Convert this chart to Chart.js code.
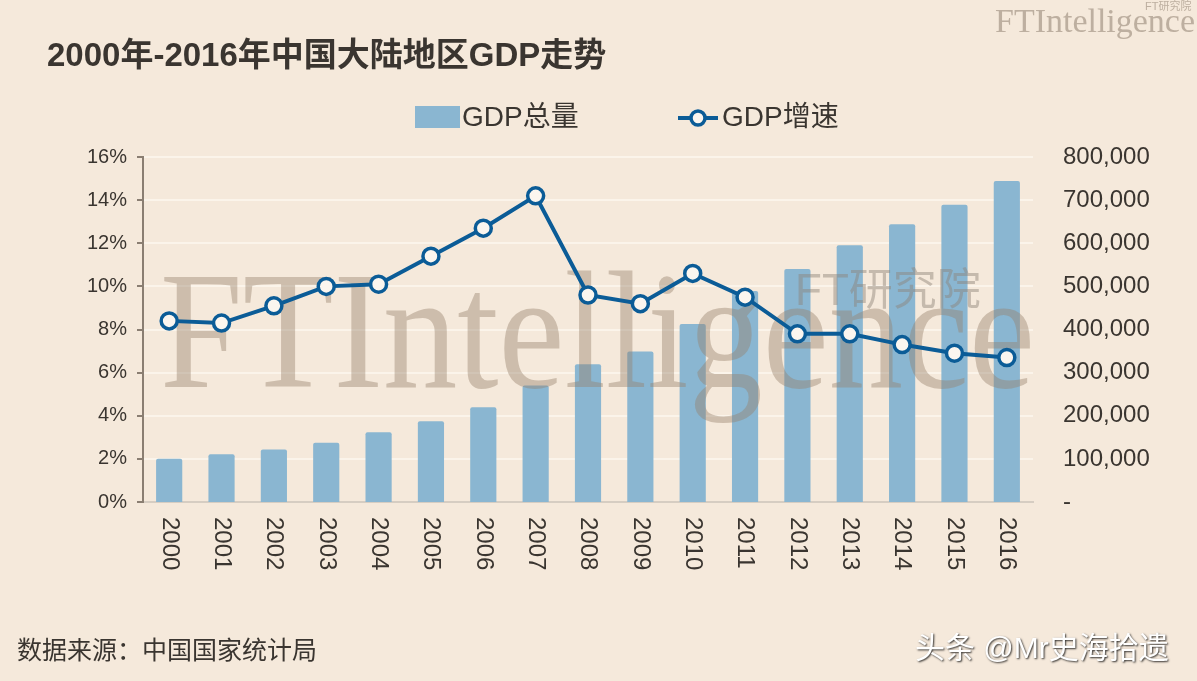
<!DOCTYPE html>
<html>
<head>
<meta charset="utf-8">
<script src="https://cdn.jsdelivr.net/npm/chart.js@4/dist/chart.umd.min.js"></script>
<style>
  html, body { margin: 0; padding: 0; background: #f5e9db; }
  #wrap { position: relative; width: 1197px; height: 681px; }
</style>
</head>
<body>
<div id="wrap"><canvas id="graphique" width="1197" height="681"></canvas></div>
<script>
// Données
var annees = ["2000", "2001", "2002", "2003", "2004", "2005", "2006", "2007", "2008",
              "2009", "2010", "2011", "2012", "2013", "2014", "2015", "2016"];
// GDP总量 (亿元)
var gdpTotal = [100280, 110863, 121717, 137422, 161840, 187319, 219439, 270232, 319516,
                349081, 413030, 489301, 540367, 595244, 643974, 689052, 744127];
// GDP增速 (%)
var gdpGrowth = [8.4, 8.3, 9.1, 10.0, 10.1, 11.4, 12.7, 14.2, 9.6,
                 9.2, 10.6, 9.5, 7.8, 7.8, 7.3, 6.9, 6.7];

var titre = "2000年-2016年中国大陆地区GDP走势";
var source = "数据来源：中国国家统计局";
var legendeBarres = "GDP总量";
var legendeLigne = "GDP增速";

var BG = "#f5e9db";
var BAR = "#8ab6d1";
var LINE = "#0b5c97";
var TXT = "#3a3530";
var SANS = '"Liberation Sans", Arial, "Noto Sans CJK SC", sans-serif';
var SERIF = '"Liberation Serif", "DejaVu Serif", serif';

// Filigrane dessiné juste après les barres (la ligne reste au-dessus)
var filigrane = {
  id: "filigrane",
  afterDatasetDraw: function(chart, args) {
    if (args.index !== 0) return;
    var ctx = chart.ctx;
    ctx.save();
    ctx.fillStyle = "rgba(150,128,108,0.42)";
    ctx.font = "168px " + SERIF;
    ctx.textBaseline = "alphabetic";
    ctx.textAlign = "left";
    ctx.fillText("FTIntelligence", 160, 387, 875);
    ctx.fillStyle = "rgba(140,128,118,0.45)";
    ctx.font = "44px " + SANS;
    ctx.fillText("FT研究院", 795, 305, 238);
    ctx.restore();
  }
};

// Textes, légende et étiquettes de l'axe X
var decor = {
  id: "decor",
  beforeDraw: function(chart) {
    var ctx = chart.ctx;
    ctx.save();
    ctx.fillStyle = BG;
    ctx.fillRect(0, 0, chart.width, chart.height);
    ctx.restore();
  },
  afterDraw: function(chart) {
    var ctx = chart.ctx;
    ctx.save();

    // titre
    ctx.fillStyle = TXT;
    ctx.textAlign = "left";
    ctx.textBaseline = "alphabetic";
    ctx.font = "bold 33px " + SANS;
    ctx.fillText(titre, 47, 66, 566);

    // logo en haut à droite
    ctx.fillStyle = "rgba(175,160,145,0.8)";
    ctx.font = "34px " + SERIF;
    ctx.fillText("FTIntelligence", 995, 32, 200);
    ctx.font = "11px " + SANS;
    ctx.fillText("FT研究院", 1145, 10, 48);

    // légende
    ctx.fillStyle = BAR;
    ctx.fillRect(415, 106, 45, 22);
    ctx.fillStyle = TXT;
    ctx.font = "28px " + SANS;
    ctx.textBaseline = "middle";
    ctx.fillText(legendeBarres, 462, 118);
    ctx.strokeStyle = LINE;
    ctx.lineWidth = 4;
    ctx.beginPath();
    ctx.moveTo(678, 118);
    ctx.lineTo(718, 118);
    ctx.stroke();
    ctx.beginPath();
    ctx.arc(698, 118, 7, 0, Math.PI * 2);
    ctx.fillStyle = "#fbf6ef";
    ctx.fill();
    ctx.lineWidth = 3.5;
    ctx.stroke();
    ctx.fillStyle = TXT;
    ctx.fillText(legendeLigne, 722, 118);

    // étiquettes X tournées
    var xs = chart.scales.x;
    ctx.font = "24px " + SANS;
    ctx.textAlign = "left";
    ctx.textBaseline = "middle";
    for (var i = 0; i < annees.length; i++) {
      var x = xs.getPixelForValue(i);
      ctx.save();
      ctx.translate(x, 517);
      ctx.rotate(Math.PI / 2);
      ctx.fillText(annees[i], 0, 0);
      ctx.restore();
    }

    // source
    ctx.font = "25px " + SANS;
    ctx.fillText(source, 17, 652);

    // marque
    ctx.font = "30px " + SANS;
    ctx.shadowColor = "rgba(0,0,0,0.8)";
    ctx.shadowOffsetX = 1;
    ctx.shadowOffsetY = 1;
    ctx.shadowBlur = 2;
    ctx.fillStyle = "#ffffff";
    ctx.fillText("头条 @Mr史海拾遗", 915, 650, 263);
    ctx.restore();
  }
};

var ctx = document.getElementById("graphique").getContext("2d");

var chart = new Chart(ctx, {
  type: "bar",
  data: {
    labels: annees,
    datasets: [{
      type: "bar",
      label: legendeBarres,
      data: gdpTotal,
      yAxisID: "y1",
      backgroundColor: BAR,
      borderRadius: 2,
      barPercentage: 0.5,
      categoryPercentage: 1,
      order: 2
    }, {
      type: "line",
      label: legendeLigne,
      data: gdpGrowth,
      yAxisID: "y",
      borderColor: LINE,
      borderWidth: 4,
      pointRadius: 8,
      pointBorderWidth: 3.5,
      pointBackgroundColor: "#fbf6ef",
      pointBorderColor: LINE,
      tension: 0,
      order: 1
    }]
  },
  options: {
    responsive: false,
    animation: false,
    layout: { padding: { top: 157, left: 0, right: 0, bottom: 0 } },
    plugins: {
      legend: { display: false },
      tooltip: { enabled: false }
    },
    scales: {
      x: {
        grid: { display: false },
        border: { display: true, color: "#d6cdc2", width: 2 },
        ticks: { display: false },
        afterFit: function(scale) { scale.height = 179; }
      },
      y: {
        position: "left",
        min: 0,
        max: 16,
        ticks: {
          stepSize: 2,
          padding: 10,
          color: TXT,
          font: { size: 20, family: SANS },
          callback: function(v) { return v + "%"; }
        },
        grid: { color: "#fbf4ea", lineWidth: 2, tickColor: "#8a7e72", tickLength: 6 },
        border: { color: "#8a7e72", width: 2 },
        afterFit: function(scale) { scale.width = 143; }
      },
      y1: {
        position: "right",
        min: 0,
        max: 800000,
        ticks: {
          stepSize: 100000,
          padding: 22,
          color: TXT,
          font: { size: 24, family: SANS },
          callback: function(v) { return v === 0 ? "-" : v.toLocaleString("en-US"); }
        },
        grid: { display: false },
        border: { display: false },
        afterFit: function(scale) { scale.width = 164; }
      }
    }
  },
  plugins: [decor, filigrane]
});
</script>
</body>
</html>
